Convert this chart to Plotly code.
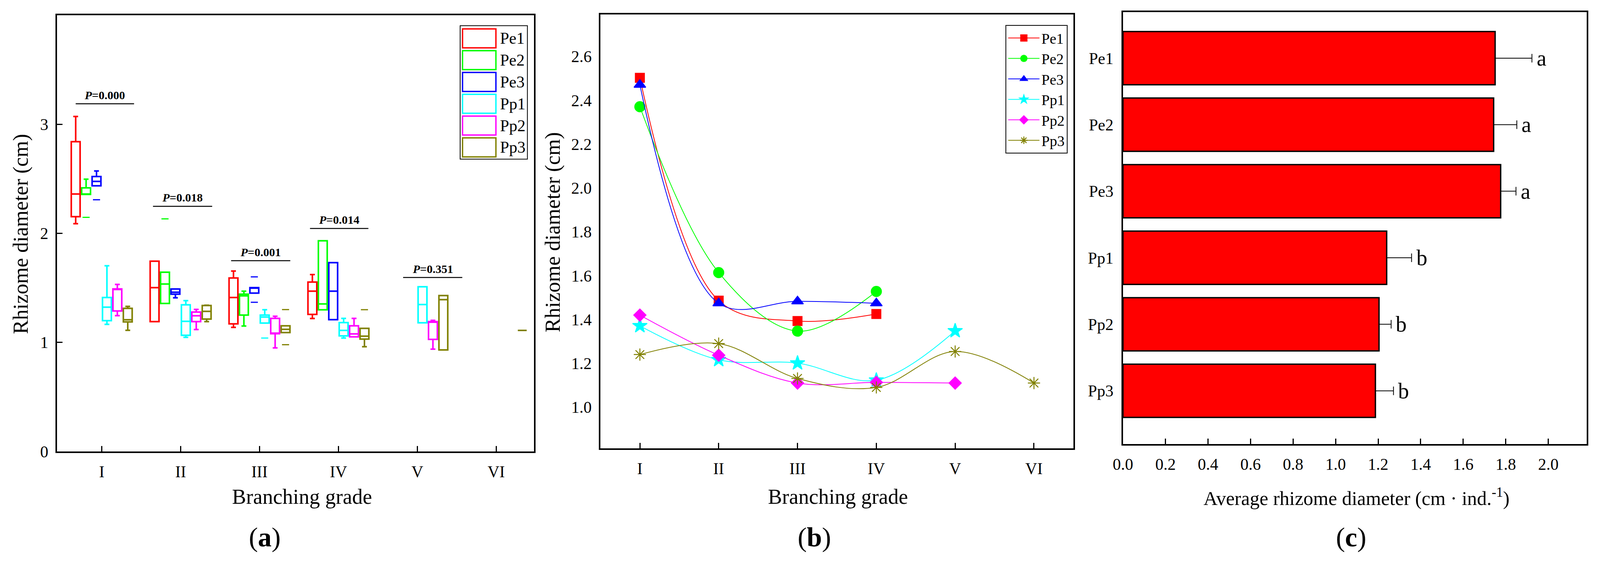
import plotly.graph_objects as go

# category / series names
grades = ["I", "II", "III", "IV", "V", "VI"]
series = ["Pe1", "Pe2", "Pe3", "Pp1", "Pp2", "Pp3"]
colors = ["#FF0000", "#00FF00", "#0000FF", "#00FFFF", "#FF00FF", "#808000"]

# (a) box statistics, rows = series, columns = grade I..VI (None = no data)
whisker_low = [
    [2.089, 1.191, 1.138, 1.219, None, None],
    [2.357, 1.357, 1.150, 1.299, None, None],
    [2.436, 1.409, 1.452, 1.209, None, None],
    [1.166, 1.047, 1.177, 1.040, 1.180, None],
    [1.245, 1.118, 0.950, 1.051, 0.938, None],
    [1.111, 1.191, 1.090, 0.961, 0.931, 1.110],
]
box_q1 = [
    [2.153, 1.191, 1.170, 1.257, None, None],
    [2.357, 1.357, 1.251, 1.299, None, None],
    [2.436, 1.442, 1.452, 1.209, None, None],
    [1.200, 1.065, 1.177, 1.060, 1.180, None],
    [1.288, 1.191, 1.080, 1.051, 1.028, None],
    [1.188, 1.214, 1.090, 1.030, 0.931, 1.110],
]
box_median = [
    [2.361, 1.502, 1.412, 1.470, None, None],
    [2.360, 1.535, 1.427, 1.353, None, None],
    [2.476, 1.460, 1.498, 1.470, None, None],
    [1.323, 1.193, 1.233, 1.110, 1.347, None],
    [1.485, 1.244, 1.085, 1.078, 1.185, None],
    [1.208, 1.285, 1.120, 1.057, 1.392, 1.110],
]
box_q3 = [
    [2.841, 1.745, 1.591, 1.553, None, None],
    [2.417, 1.644, 1.442, 1.932, None, None],
    [2.521, 1.490, 1.502, 1.731, None, None],
    [1.412, 1.345, 1.251, 1.182, 1.510, None],
    [1.491, 1.278, 1.220, 1.152, 1.191, None],
    [1.312, 1.338, 1.152, 1.129, 1.430, 1.110],
]
whisker_high = [
    [3.072, 1.745, 1.654, 1.622, None, None],
    [2.497, 1.644, 1.470, 1.932, None, None],
    [2.572, 1.490, 1.502, 1.731, None, None],
    [1.703, 1.383, 1.300, 1.220, 1.510, None],
    [1.532, 1.303, 1.240, 1.220, 1.202, None],
    [1.330, 1.341, 1.152, 1.129, 1.430, 1.110],
]
# min / max dashes drawn outside the whiskers
extreme_series = [1, 1, 2, 2, 2, 3, 5, 5, 5]
extreme_grade = [0, 1, 0, 2, 2, 2, 2, 2, 3]
extreme_value = [2.147, 2.133, 2.308, 1.601, 1.368, 1.040, 1.301, 0.979, 1.300]

# significance labels above each grade
p_values = ["0.000", "0.018", "0.001", "0.014", "0.351"]
p_levels = [3.188, 2.248, 1.749, 2.045, 1.595]

# (b) mean rhizome diameter per grade
line_values = [
    [2.503, 1.486, 1.393, 1.425],
    [2.371, 1.614, 1.347, 1.528],
    [2.471, 1.474, 1.483, 1.474],
    [1.371, 1.216, 1.201, 1.123, 1.348],
    [1.420, 1.237, 1.110, 1.113, 1.110],
    [1.240, 1.290, 1.131, 1.090, 1.254, 1.110],
]

# (c) average rhizome diameter
avg_diameter = [1.750, 1.743, 1.776, 1.240, 1.204, 1.187]
avg_error = [0.173, 0.109, 0.072, 0.117, 0.057, 0.085]
avg_letters = ["a", "a", "a", "b", "b", "b"]

FONT = "Liberation Serif"
W, H = 4290, 1439

fig = go.Figure()

# ---- panel a: boxes
slot = 0.132
for k, name in enumerate(series):
    idx = [g for g in range(len(grades)) if box_q1[k][g] is not None]
    fig.add_trace(go.Box(
        x=[g + (k - 2.5) * slot for g in idx],
        q1=[box_q1[k][g] for g in idx],
        median=[box_median[k][g] for g in idx],
        q3=[box_q3[k][g] for g in idx],
        lowerfence=[whisker_low[k][g] for g in idx],
        upperfence=[whisker_high[k][g] for g in idx],
        orientation="v", width=0.112, whiskerwidth=0.55, boxpoints=False,
        line=dict(color=colors[k], width=4), fillcolor="rgba(0,0,0,0)",
        name=name, showlegend=False, xaxis="x", yaxis="y", hoverinfo="skip"))

for s, g, v in zip(extreme_series, extreme_grade, extreme_value):
    fig.add_trace(go.Scatter(
        x=[g + (s - 2.5) * slot], y=[v], mode="markers",
        marker=dict(symbol="line-ew", size=13, line=dict(color=colors[s], width=3)),
        showlegend=False, xaxis="x", yaxis="y", hoverinfo="skip"))

# ---- panel b: smoothed lines
symbols = ["square", "circle", "triangle-up", "star", "diamond", "asterisk-open"]
sizes = [23, 26, 26, 28, 24, 26]
for k, name in enumerate(series):
    vals = line_values[k]
    fig.add_trace(go.Scatter(
        x=grades[:len(vals)], y=vals, mode="lines+markers", name=name,
        line=dict(color=colors[k], width=2, shape="spline", smoothing=1.0),
        marker=dict(symbol=symbols[k], size=sizes[k], color=colors[k],
                    line=dict(color=colors[k], width=2.5)),
        xaxis="x2", yaxis="y2"))

# ---- panel c: horizontal bars
fig.add_trace(go.Bar(
    x=avg_diameter, y=series, orientation="h", width=0.8,
    marker=dict(color="#FF0000", line=dict(color="black", width=3.5)),
    error_x=dict(type="data", array=avg_error, arrayminus=[0] * len(avg_error),
                 symmetric=False, color="black", thickness=2, width=11),
    showlegend=False, xaxis="x3", yaxis="y3"))

axis_common = dict(showline=True, linecolor="black", linewidth=4, mirror=True,
                   showgrid=False, zeroline=False, ticks="inside", tickcolor="black",
                   tickwidth=3, ticklen=14, automargin=False,
                   tickfont=dict(family=FONT, size=42, color="black"))

def px_x(v):
    return v / W

def px_y(v):
    return (H - v) / H

# size follows the browser viewport so the whole figure is on the page
fig.update_layout(
    template="none", autosize=True,
    margin=dict(l=0, r=0, t=0, b=0, pad=0),
    paper_bgcolor="white", plot_bgcolor="white",
    font=dict(family=FONT, color="black"),
    xaxis=dict(axis_common, domain=[px_x(153), px_x(1432)], range=[-0.566, 5.48],
               tickvals=list(range(len(grades))), ticktext=grades,
               ticklabelstandoff=12, anchor="y"),
    yaxis=dict(axis_common, domain=[px_y(1156), px_y(39)], range=[0, 4.0],
               tickvals=[0, 1, 2, 3], ticklabelstandoff=10, anchor="x"),
    xaxis2=dict(axis_common, domain=[px_x(1610), px_x(2878)], type="category",
                categoryorder="array", categoryarray=grades, range=[-0.5, 5.5],
                ticklabelstandoff=12, anchor="y2"),
    yaxis2=dict(axis_common, domain=[px_y(1148), px_y(37)], range=[0.812, 2.792],
                dtick=0.2, tick0=0, tickformat=".1f", ticks="",
                ticklabelstandoff=10, anchor="x2"),
    xaxis3=dict(axis_common, domain=[px_x(3011), px_x(4254)], range=[0, 2.18],
                dtick=0.2, tick0=0, tickformat=".1f", ticklabelstandoff=12,
                anchor="y3"),
    yaxis3=dict(axis_common, domain=[px_y(1137), px_y(31)], type="category",
                categoryorder="array", categoryarray=series, range=[5.80, -0.692],
                ticks="", ticklabelstandoff=12, anchor="x3"),
    legend=dict(x=px_x(2696), y=px_y(64), xanchor="left", yanchor="top",
                bordercolor="black", borderwidth=2, bgcolor="white",
                font=dict(family=FONT, size=38, color="black"),
                itemwidth=80, tracegroupgap=0),
    showlegend=True,
)

annotations = []
shapes = []

# P value bars on panel a
p_x0 = [-0.33, 0.65, 1.64, 2.64, 3.82]
p_x1 = [0.41, 1.40, 2.39, 3.38, 4.57]
for txt, lvl, a0, a1 in zip(p_values, p_levels, p_x0, p_x1):
    shapes.append(dict(type="line", xref="x", yref="y", x0=a0, x1=a1, y0=lvl, y1=lvl,
                       line=dict(color="black", width=2.5)))
    annotations.append(dict(xref="x", yref="y", x=(a0 + a1) / 2, y=lvl,
                            text="<b><i>P</i>=" + txt + "</b>", showarrow=False,
                            yanchor="bottom", yshift=4,
                            font=dict(family=FONT, size=30, color="black")))

# legend of panel a drawn as hollow boxes
shapes.append(dict(type="rect", xref="x domain", yref="y domain",
                   x0=0.845, x1=0.986, y0=0.670, y1=0.976,
                   line=dict(color="black", width=2)))
for k, name in enumerate(series):
    top = 0.9687 - 0.04997 * k
    bot = 0.9252 - 0.04997 * k
    shapes.append(dict(type="rect", xref="x domain", yref="y domain",
                       x0=0.850, x1=0.920, y0=bot, y1=top,
                       line=dict(color=colors[k], width=3.5)))
    annotations.append(dict(xref="x domain", yref="y domain", x=0.927,
                            y=(top + bot) / 2, text=name, showarrow=False,
                            xanchor="left", yanchor="middle",
                            font=dict(family=FONT, size=42, color="black")))

# significance letters on panel c
for v, e, name, letter in zip(avg_diameter, avg_error, series, avg_letters):
    annotations.append(dict(xref="x3", yref="y3", x=v + e, y=name, text=letter,
                            showarrow=False, xanchor="left", xshift=10,
                            font=dict(family=FONT, size=56, color="black")))

# axis titles and panel letters
titles = [
    ("Rhizome diameter (cm)", 56, 599, -90),
    ("Branching grade", 810, 1272, 0),
    ("Rhizome diameter (cm)", 1482, 594, -90),
    ("Branching grade", 2247, 1272, 0),
    ("Average rhizome diameter (cm · ind.<sup>-1</sup>)", 3637, 1272, 0),
]
for txt, cx, cy, ang in titles:
    annotations.append(dict(xref="paper", yref="paper", x=px_x(cx), y=px_y(cy),
                            text=txt, showarrow=False, textangle=ang,
                            xanchor="center", yanchor="middle",
                            font=dict(family=FONT, size=54 if "Average" not in txt else 50,
                                      color="black")))
for lab, cx in zip(["a", "b", "c"], [710, 2184, 3623]):
    annotations.append(dict(xref="paper", yref="paper", x=px_x(cx), y=px_y(1375),
                            text="(<b>" + lab + "</b>)", showarrow=False,
                            xanchor="center", yanchor="middle",
                            font=dict(family=FONT, size=70, color="black")))

fig.update_layout(annotations=annotations, shapes=shapes)

fig.write_html(
    "out.html",
    config={"displayModeBar": False},
    default_width="100vw",
    default_height="100vh",
    post_script=(
        "document.body.style.margin='0';"
        "document.body.style.overflow='hidden';"
        "Plotly.Plots.resize(document.getElementById('{plot_id}'));"
    ),
)
